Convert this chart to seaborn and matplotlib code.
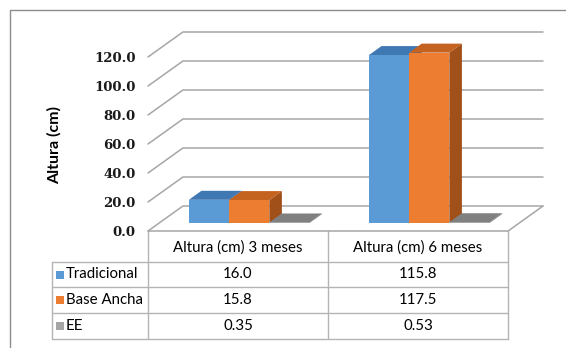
import numpy as np
import pandas as pd
import matplotlib
matplotlib.use("Agg")
import matplotlib.pyplot as plt
import matplotlib.transforms as mtransforms
from matplotlib.patches import Polygon
import seaborn as sns

# ---- data -------------------------------------------------------------
categories = ["Altura (cm) 3 meses", "Altura (cm) 6 meses"]
series = ["Tradicional", "Base Ancha", "EE"]
tradicional = [16.0, 115.8]
base_ancha = [15.8, 117.5]
ee = [0.35, 0.53]
value_formats = ["{:.1f}", "{:.1f}", "{:.2f}"]
y_ticks = [0, 20, 40, 60, 80, 100, 120]

# ---- styling ----------------------------------------------------------
front_colors = ["#5B9BD5", "#ED7D31", "#A5A5A5"]
top_colors = ["#3F78B3", "#C4621F", "#808080"]
side_colors = ["#3A6A9C", "#A2501A", "#6E6E6E"]
grid_color = "#A6A6A6"
table_color = "#B4B4B4"

sns.set_theme(style="white")
plt.rcParams["font.family"] = ["Lato", "DejaVu Sans"]

W, H = 566, 348
fig = plt.figure(figsize=(W / 100, H / 100), dpi=100)
fig.patch.set_facecolor("white")

# depth of the 3-D box in data units (x: category units, y: value units)
DEPTH_X = 0.194
DEPTH_Y = 17.24
BAR_FRONT = 0.32   # fraction of depth where the bars start
BAR_DEPTH = 0.36   # fraction of depth the bars occupy

ax = fig.add_axes([148 / W, 1 - 231 / H, 395 / W, 199 / H])
ax.set_facecolor("none")

df = pd.DataFrame({
    "Periodo": categories * 3,
    "Serie": np.repeat(series, len(categories)),
    "Altura": tradicional + base_ancha + ee,
})
sns.barplot(data=df, x="Periodo", y="Altura", hue="Serie", hue_order=series,
            palette=front_colors, width=0.67, dodge=True, saturation=1,
            linewidth=0, legend=False, errorbar=None, ax=ax)

ax.set_xlim(-0.5, 1.5 + DEPTH_X)
ax.set_ylim(0, max(y_ticks) + DEPTH_Y)

# back wall, side wall and floor lines
for v in y_ticks:
    ax.plot([-0.5, -0.5 + DEPTH_X, 1.5 + DEPTH_X], [v, v + DEPTH_Y, v + DEPTH_Y],
            color=grid_color, lw=1.1, zorder=1, clip_on=False)
ax.plot([-0.5, 1.5, 1.5 + DEPTH_X], [0, 0, DEPTH_Y], color=grid_color, lw=1.1,
        zorder=1, clip_on=False)

# turn the flat bars into boxes
shift = mtransforms.Affine2D().translate(BAR_FRONT * DEPTH_X, BAR_FRONT * DEPTH_Y) + ax.transData
bdx, bdy = BAR_DEPTH * DEPTH_X, BAR_DEPTH * DEPTH_Y
front_rgb = [matplotlib.colors.to_rgb(c) for c in front_colors]
for p in list(ax.patches):
    fc = p.get_facecolor()[:3]
    k = int(np.argmin([np.sum((np.array(fc) - np.array(c)) ** 2) for c in front_rgb]))
    x0, w, h = p.get_x(), p.get_width(), p.get_height()
    x1 = x0 + w
    z = 3 + x0
    p.set_transform(shift)
    p.set_clip_on(False)
    p.set_zorder(z + 0.002)
    top = Polygon([(x0, h), (x1, h), (x1 + bdx, h + bdy), (x0 + bdx, h + bdy)],
                  closed=True, facecolor=top_colors[k], edgecolor="none",
                  transform=shift, zorder=z + 0.001, clip_on=False)
    side = Polygon([(x1, 0), (x1, h), (x1 + bdx, h + bdy), (x1 + bdx, bdy)],
                   closed=True, facecolor=side_colors[k], edgecolor="none",
                   transform=shift, zorder=z, clip_on=False)
    ax.add_patch(top)
    ax.add_patch(side)

ax.set_yticks(y_ticks)
ax.set_yticklabels([f"{v:.1f}" for v in y_ticks], family=["DejaVu Serif"],
                   fontweight="bold", fontsize=9.5, color="#1A1A1A")
ax.tick_params(axis="y", length=0, pad=9)
ax.set_xticks([])
ax.set_xlabel("")
ax.set_ylabel("Altura (cm)", fontsize=11.5, fontweight="bold", color="#000000")
ax.yaxis.set_label_coords((62 - 148) / 395, (231 - 145) / 199)
for s in ax.spines.values():
    s.set_visible(False)

# ---- data table below the plot ----------------------------------------
tab = fig.add_axes([0, 0, 1, 1], zorder=-1)
tab.set_xlim(0, W)
tab.set_ylim(H, 0)
tab.axis("off")

col_edges = [52, 148, 328, 508]
row_edges = [231, 262, 287, 313, 339]
for y in row_edges[1:]:
    tab.plot([col_edges[0], col_edges[-1]], [y, y], color=table_color, lw=1)
for x in col_edges:
    y_start = row_edges[1] if x == col_edges[0] else row_edges[0]
    tab.plot([x, x], [y_start, row_edges[-1]], color=table_color, lw=1)

txt = dict(fontsize=10.8, color="#000000", ha="center", va="center")
for j, cat in enumerate(categories):
    cx = (col_edges[j + 1] + col_edges[j + 2]) / 2
    tab.text(cx, (row_edges[0] + row_edges[1]) / 2 + 1, cat, **txt)

values = [tradicional, base_ancha, ee]
for i, name in enumerate(series):
    cy = (row_edges[i + 1] + row_edges[i + 2]) / 2
    tab.add_patch(plt.Rectangle((56, cy - 4), 8, 8, facecolor=front_colors[i],
                                edgecolor="none"))
    tab.text(66, cy, name, fontsize=10.8, color="#000000", ha="left", va="center")
    for j in range(len(categories)):
        cx = (col_edges[j + 1] + col_edges[j + 2]) / 2
        tab.text(cx, cy, value_formats[i].format(values[i][j]), **txt)

# chart frame
tab.plot([10, 10, W], [H, 10, 10], color="#8C8C8C", lw=1)

fig.savefig("out.png", dpi=100)
